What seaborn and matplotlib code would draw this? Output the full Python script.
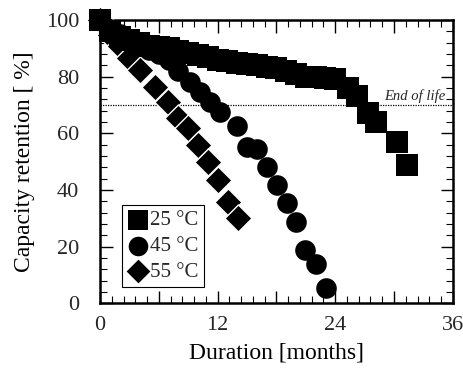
import matplotlib
matplotlib.use("Agg")
import matplotlib.pyplot as plt
import seaborn as sns
import pandas as pd
from matplotlib.ticker import MultipleLocator, FuncFormatter

# ---- data ----
x_25 = [0, 1, 2, 3, 4, 5, 6, 7, 8, 9, 10, 11, 12, 13, 14, 15, 16, 17, 18, 19,
        20, 21, 22, 23, 24, 25.3, 26.2, 27.3, 28.2, 30.3, 31.3]
y_25 = [100, 96, 94, 93, 92, 91, 90.5, 90, 89, 88.5, 87.5, 87, 86, 85.5, 85, 84.5,
        84, 83.5, 83, 82, 81, 80, 80, 79.5, 79, 76, 73, 67, 64, 57, 48.8]

x_45 = [0, 1, 2, 3, 4, 5, 6, 7, 8, 9.2, 10.2, 11.2, 12.2, 14, 15, 16, 17, 18.1,
        19.1, 20, 20.9, 22, 23.1]
y_45 = [100, 97, 95, 93, 91, 89.5, 88, 86, 82, 78, 74.5, 71, 67.5, 62.5, 55, 54.4,
        48, 41.7, 35.3, 28.6, 18.7, 14, 5.3]

x_55 = [0, 1, 2, 3, 4.1, 5.6, 6.9, 8, 9, 10, 11, 12, 13.1, 14.1]
y_55 = [100, 94.7, 90.7, 86.7, 82.3, 76.3, 71, 65.4, 61.8, 55.8, 49.8, 43.5, 35.7, 30]

labels = ["25 °C", "45 °C", "55 °C"]
end_of_life = 70
x_ticks_labeled = [0, 12, 24, 36]
y_ticks = [0, 20, 40, 60, 80, 100]

sns.set_theme(style="ticks")
plt.rcParams["font.family"] = ["Liberation Serif", "DejaVu Serif"]

fig = plt.figure(figsize=(4.63, 3.78), dpi=100)
ax = fig.add_axes([0.216, 0.198, 0.762, 0.749])

df55 = pd.DataFrame({"x": x_55, "y": y_55})
df45 = pd.DataFrame({"x": x_45, "y": y_45})
df25 = pd.DataFrame({"x": x_25, "y": y_25})

sns.scatterplot(data=df55, x="x", y="y", ax=ax, marker="D", s=190, color="black",
                edgecolor="white", linewidth=1.0, label=labels[2], zorder=3,
                clip_on=False)
sns.scatterplot(data=df45, x="x", y="y", ax=ax, marker="o", s=220, color="black",
                edgecolor="black", linewidth=0, label=labels[1], zorder=4,
                clip_on=False)
sns.scatterplot(data=df25, x="x", y="y", ax=ax, marker="s", s=240, color="black",
                edgecolor="black", linewidth=0, label=labels[0], zorder=5,
                clip_on=False)

ax.axhline(end_of_life, color="black", lw=0.9, ls=(0, (1, 1)), zorder=2)
ax.text(35.2, end_of_life + 0.8, "End of life", ha="right", va="bottom",
        fontsize=10.5, style="italic")

ax.set_xlim(0, 36)
ax.set_ylim(0, 100)
ax.xaxis.set_major_locator(MultipleLocator(6))
ax.xaxis.set_minor_locator(MultipleLocator(1.2))
ax.xaxis.set_major_formatter(FuncFormatter(
    lambda v, p: f"{int(round(v))}" if int(round(v)) in x_ticks_labeled else ""))
ax.set_yticks(y_ticks)
ax.yaxis.set_minor_locator(MultipleLocator(4))

ax.tick_params(which="both", direction="in", top=True, right=True, color="black")
ax.tick_params(which="major", length=9, width=1.0, labelsize=16)
ax.tick_params(which="minor", length=5, width=0.8)
ax.tick_params(axis="y", which="major", pad=15)
ax.tick_params(axis="x", which="major", pad=9)
for sp in ax.spines.values():
    sp.set_visible(True)
    sp.set_linewidth(1.8)
    sp.set_color("black")

ax.set_xlabel("Duration [months]", fontsize=17, color="black", labelpad=6)
ax.set_ylabel("Capacity retention [ %]", fontsize=17, color="black", labelpad=8)

handles, labs = ax.get_legend_handles_labels()
order = [labs.index(l) for l in labels]
leg = ax.legend([handles[i] for i in order], [labs[i] for i in order],
                loc="lower left", bbox_to_anchor=(0.062, 0.057), borderaxespad=0,
                fontsize=15, frameon=True, fancybox=False, framealpha=1,
                edgecolor="black", handletextpad=0.1, labelspacing=0.3,
                borderpad=0.25, handlelength=1.0, markerscale=0.95)
leg.get_frame().set_linewidth(0.8)

fig.savefig("out.png", dpi=100, facecolor="white")
